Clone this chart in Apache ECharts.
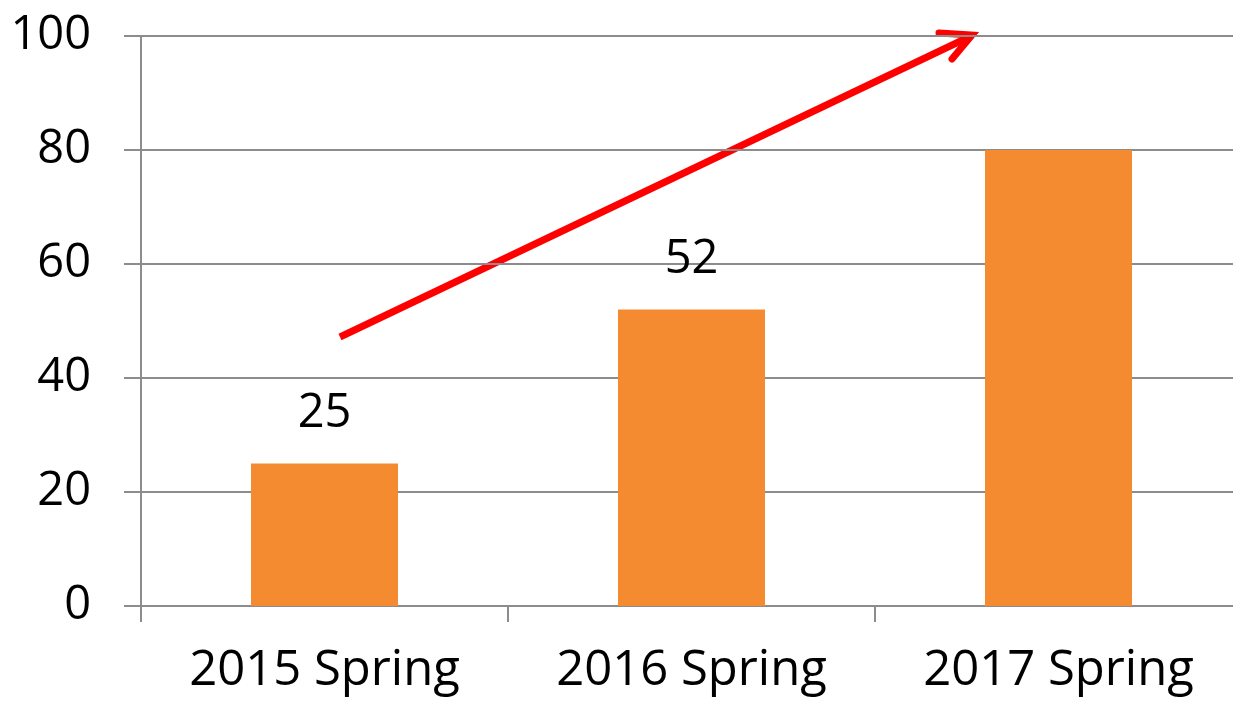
<!DOCTYPE html>
<html><head><meta charset="utf-8">
<script src="https://cdn.jsdelivr.net/npm/echarts@6/dist/echarts.min.js"></script>
<style>html,body{margin:0;padding:0;background:#fff;overflow:hidden;width:1233px;height:703px}#c{width:1242px;height:703px}</style>
</head><body><div id="c"></div>
<script>
const categories = ['2015 Spring', '2016 Spring', '2017 Spring'];
const values = [25, 52, 80];
const showLabel = [true, true, false];
const yTicks = { min: 0, max: 100, interval: 20 };

const chart = echarts.init(document.getElementById('c'), null, { renderer: 'canvas' });
const font = '"Open Sans", "Noto Sans", sans-serif';
chart.setOption({
  animation: false,
  backgroundColor: '#ffffff',
  grid: { left: 141, top: 36, right: 0, bottom: 97 },
  xAxis: {
    type: 'category',
    data: categories,
    axisLine: { lineStyle: { color: '#8c8c8c', width: 2 } },
    axisTick: { show: true, length: 16, lineStyle: { color: '#8c8c8c', width: 2 } },
    axisLabel: { color: '#000', fontSize: 49, fontFamily: font, margin: 41 }
  },
  yAxis: {
    type: 'value',
    min: yTicks.min, max: yTicks.max, interval: yTicks.interval,
    axisLine: { show: true, lineStyle: { color: '#8c8c8c', width: 2 } },
    axisTick: { show: true, length: 17, lineStyle: { color: '#8c8c8c', width: 2 } },
    splitLine: { lineStyle: { color: '#8c8c8c', width: 2 } },
    axisLabel: { color: '#000', fontSize: 47, fontFamily: font, margin: 50 }
  },
  series: [{
    type: 'bar',
    barWidth: 147,
    itemStyle: { color: '#F58B30' },
    data: values.map((v, i) => ({
      value: v,
      label: { show: showLabel[i], position: 'top', distance: 26, color: '#000', fontSize: 47, fontFamily: font }
    }))
  }],
  graphic: [{
    type: 'group',
    silent: true,
    children: [
      { type: 'line', shape: { x1: 340, y1: 337, x2: 969, y2: 37 }, style: { stroke: '#ff0000', lineWidth: 7, lineCap: 'butt' } },
      { type: 'polyline', shape: { points: [[939, 33], [972, 35], [952, 59]] }, style: { stroke: '#ff0000', lineWidth: 7, lineCap: 'round', lineJoin: 'miter', fill: null } }
    ]
  }]
});
</script></body></html>
